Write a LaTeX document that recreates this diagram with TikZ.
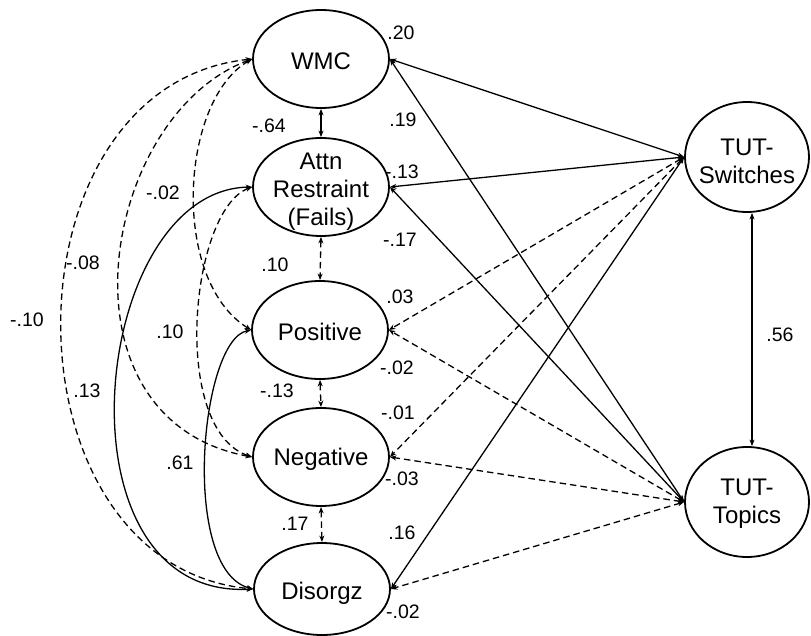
\documentclass[tikz,border=0pt]{standalone}
\usepackage{fontspec}
\setmainfont{Liberation Sans}
\usetikzlibrary{shapes.geometric,arrows.meta}
\begin{document}
\begin{tikzpicture}[x=1pt,y=-1pt,
  lat/.style={draw,ellipse,line width=1.8pt,minimum width=136pt,minimum height=98pt,inner sep=0pt},
  tut/.style={lat,minimum width=124pt,minimum height=110pt},
  txt/.style={align=center,inner sep=0pt,font=\fontsize{24}{28}\selectfont},
  lbl/.style={inner sep=0pt,font=\fontsize{19.5}{22}\selectfont},
  link/.style={line width=1.3pt,{Stealth[length=6.5pt,width=5pt]}-{Stealth[length=6.5pt,width=5pt]}},
  dsh/.style={link,dash pattern=on 6.5pt off 4pt}]
\useasboundingbox (0,0) rectangle (811,636);
% latent variables
\node[lat] (W) at (321,59) {};
\node[txt] (Wt) at ([yshift=-2pt]W.center) {WMC};
\node[lat] (A) at (321,187) {};
\node[txt] (At) at ([yshift=-5pt]A.center) {Attn\\Restraint\\(Fails)};
\node[lat] (P) at (320,330) {};
\node[txt] (Pt) at ([yshift=-2pt]P.center) {Positive};
\node[lat] (N) at (321,457) {};
\node[txt] (Nt) at ([yshift=-2pt]N.center) {Negative};
\node[lat,minimum height=92pt] (D) at (322,589) {};
\node[txt] (Dt) at ([yshift=-4pt]D.center) {Disorgz};
\node[tut] (S) at (747,157) {};
\node[txt] (St) at ([yshift=-4pt]S.center) {TUT-\\Switches};
\node[tut] (T) at (747,502) {};
\node[txt] (Tt) at ([yshift=-2pt]T.center) {TUT-\\Topics};
% vertical links
\draw[link] (W.south) -- (A.north);
\draw[dsh] (A.south) -- (P.north);
\draw[dsh] (P.south) -- (N.north);
\draw[dsh] (N.south) -- (D.north);
\draw[link] ([xshift=5pt]S.south) -- ([xshift=5pt]T.north);
% left covariances
\draw[dsh] (W.west) .. controls (-2,85) and (-2,565) .. (D.west);
\draw[dsh] (W.west) .. controls (100,115) and (50,420) .. (N.west);
\draw[dsh] (W.west) .. controls (180,100) and (170,280) .. (P.west);
\draw[link] (A.west) .. controls (90,190) and (50,600) .. (D.west);
\draw[dsh] (A.west) .. controls (190,210) and (170,430) .. (N.west);
\draw[link] (P.west) .. controls (200,340) and (180,570) .. (D.west);
% right paths
\draw[link] (S.west) -- (W.east);
\draw[link] (S.west) -- (A.east);
\draw[dsh] (S.west) -- (P.east);
\draw[dsh] (S.west) -- (N.east);
\draw[link] (S.west) -- (D.east);
\draw[link] (T.west) -- (W.east);
\draw[link] (T.west) -- (A.east);
\draw[dsh] (T.west) -- (P.east);
\draw[dsh] (T.west) -- (N.east);
\draw[dsh] (T.west) -- (D.east);
% labels
\node[lbl] (l1) at (269,126) {-.64};
\node[lbl] (l2) at (275,265) {.10};
\node[lbl] (l3) at (277,391) {-.13};
\node[lbl] (l4) at (295,524) {.17};
\node[lbl] (l5) at (401,33) {.20};
\node[lbl] (l6) at (403,120) {.19};
\node[lbl] (l7) at (402,172) {-.13};
\node[lbl] (l8) at (400,240) {-.17};
\node[lbl] (l9) at (400,297) {.03};
\node[lbl] (l10) at (397,368) {-.02};
\node[lbl] (l11) at (398,413) {-.01};
\node[lbl] (l12) at (402,479) {-.03};
\node[lbl] (l13) at (402,533) {.16};
\node[lbl] (l14) at (403,612) {-.02};
\node[lbl] (l15) at (780,335) {.56};
\node[lbl] (l16) at (27,320) {-.10};
\node[lbl] (l17) at (83,263) {-.08};
\node[lbl] (l18) at (163,193) {-.02};
\node[lbl] (l19) at (170,332) {.10};
\node[lbl] (l20) at (87,391) {.13};
\node[lbl] (l21) at (180,463) {.61};
\end{tikzpicture}
\end{document}
